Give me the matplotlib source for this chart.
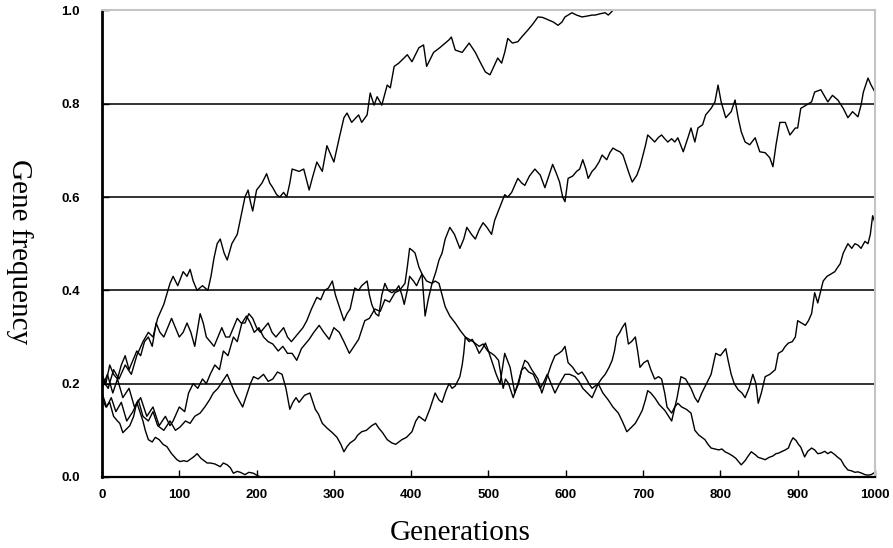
import matplotlib
matplotlib.use("Agg")
import matplotlib.pyplot as plt
from matplotlib.ticker import FormatStrFormatter

# five drift runs (generation, gene frequency)
a_gen = [0, 8, 15, 22, 30, 38, 45, 53, 60, 66, 72, 80, 88, 92, 98, 105, 110, 114, 118, 123,
         130, 137, 141, 145, 149, 153, 158, 162, 168, 175, 180, 185, 189, 192, 195, 200, 207,
         213, 217, 221, 226, 230, 235, 239, 243, 246, 255, 261, 268, 272, 278, 285, 291, 300,
         307, 313, 317, 323, 332, 336, 343, 347, 352, 356, 362, 369, 373, 378, 384, 395, 401,
         410, 416, 420, 429, 437, 449, 452, 457, 466, 475, 483, 489, 496, 502, 507, 512, 517,
         521, 525, 531, 538, 544, 551, 557, 564, 570, 577, 584, 590, 595, 599, 608, 614, 621,
         628, 634, 638, 645, 651, 655, 661]
a_freq = [0.21, 0.19, 0.23, 0.21, 0.24, 0.22, 0.26, 0.29, 0.31, 0.30, 0.34, 0.37, 0.415, 0.43,
          0.41, 0.44, 0.43, 0.445, 0.42, 0.40, 0.41, 0.40, 0.43, 0.47, 0.50, 0.51, 0.48, 0.465,
          0.50, 0.52, 0.56, 0.60, 0.615, 0.59, 0.57, 0.615, 0.63, 0.65, 0.63, 0.62, 0.605, 0.60,
          0.61, 0.60, 0.63, 0.66, 0.655, 0.66, 0.615, 0.64, 0.675, 0.655, 0.71, 0.675, 0.727,
          0.77, 0.78, 0.76, 0.776, 0.76, 0.776, 0.823, 0.797, 0.815, 0.797, 0.84, 0.834, 0.88,
          0.887, 0.905, 0.89, 0.92, 0.926, 0.88, 0.91, 0.92, 0.937, 0.943, 0.915, 0.91, 0.93,
          0.91, 0.89, 0.868, 0.862, 0.88, 0.898, 0.887, 0.91, 0.94, 0.93, 0.933, 0.945, 0.958,
          0.97, 0.986, 0.985, 0.98, 0.975, 0.968, 0.975, 0.986, 0.995, 0.99, 0.986, 0.988, 0.99,
          0.99, 0.993, 0.995, 0.99, 1.0]

b_gen = [0, 7, 14, 20, 27, 35, 42, 50, 58, 66, 74, 82, 88, 92, 100, 107, 112, 118, 124, 130,
         135, 140, 146, 152, 157, 163, 170, 175, 181, 187, 192, 197, 203, 209, 215, 221, 228,
         234, 240, 246, 252, 258, 268, 274, 281, 287, 294, 300, 307, 313, 320, 326, 332, 340,
         346, 353, 360, 366, 372, 379, 385, 392, 395, 398, 402, 405, 410, 414, 418, 422, 427,
         432, 436, 440, 444, 450, 456, 463, 468, 472, 478, 483, 488, 493, 498, 504, 508, 512,
         521, 525, 530, 534, 538, 543, 547, 553, 560, 567, 573, 578, 583, 588, 592, 596, 599,
         603, 609, 614, 618, 622, 626, 629, 634, 638, 643, 647, 653, 657, 661, 666, 670, 674,
         677, 682, 686, 692, 696, 699, 703, 706, 711, 715, 720, 724, 728, 732, 737, 741, 745,
         752, 758, 762, 767, 771, 777, 781, 788, 793, 797, 801, 807, 814, 819, 823, 827, 832,
         838, 845, 851, 858, 864, 868, 872, 877, 884, 890, 897, 900, 904, 911, 918, 922, 930,
         939, 945, 952, 959, 965, 971, 978, 982, 985, 991, 995, 1000]
b_freq = [0.19, 0.22, 0.18, 0.21, 0.17, 0.19, 0.15, 0.17, 0.13, 0.15, 0.11, 0.13, 0.11, 0.12,
          0.15, 0.14, 0.18, 0.20, 0.19, 0.21, 0.20, 0.22, 0.24, 0.23, 0.27, 0.26, 0.30, 0.29,
          0.33, 0.345, 0.33, 0.31, 0.32, 0.30, 0.29, 0.285, 0.27, 0.28, 0.265, 0.265, 0.25,
          0.275, 0.295, 0.31, 0.325, 0.31, 0.295, 0.32, 0.31, 0.29, 0.265, 0.28, 0.295, 0.335,
          0.34, 0.36, 0.355, 0.38, 0.375, 0.395, 0.40, 0.415, 0.45, 0.49, 0.485, 0.48, 0.45,
          0.435, 0.345, 0.38, 0.415, 0.44, 0.465, 0.48, 0.51, 0.535, 0.52, 0.49, 0.51, 0.535,
          0.52, 0.51, 0.53, 0.545, 0.535, 0.52, 0.55, 0.567, 0.605, 0.60, 0.61, 0.625, 0.64,
          0.63, 0.625, 0.645, 0.66, 0.647, 0.62, 0.645, 0.67, 0.65, 0.632, 0.60, 0.59, 0.64,
          0.645, 0.655, 0.66, 0.68, 0.66, 0.64, 0.655, 0.662, 0.675, 0.69, 0.68, 0.695, 0.705,
          0.70, 0.697, 0.69, 0.675, 0.65, 0.632, 0.647, 0.665, 0.684, 0.71, 0.733, 0.725, 0.718,
          0.728, 0.733, 0.725, 0.718, 0.725, 0.718, 0.727, 0.697, 0.727, 0.748, 0.718, 0.748,
          0.755, 0.776, 0.79, 0.804, 0.84, 0.804, 0.77, 0.783, 0.808, 0.77, 0.74, 0.718, 0.712,
          0.727, 0.697, 0.695, 0.684, 0.665, 0.712, 0.76, 0.76, 0.733, 0.748, 0.748, 0.79,
          0.797, 0.804, 0.825, 0.83, 0.804, 0.818, 0.808, 0.79, 0.77, 0.783, 0.772, 0.797,
          0.825, 0.855, 0.84, 0.825]

c_gen = [0, 6, 12, 18, 25, 32, 40, 47, 53, 60, 66, 72, 80, 88, 95, 101, 108, 114, 120, 127,
         133, 139, 144, 150, 156, 162, 167, 172, 177, 182, 188, 192, 196, 202, 209, 215, 221,
         227, 233, 238, 243, 247, 251, 255, 262, 269, 276, 280, 285, 291, 298, 304, 309, 313,
         317, 321, 327, 331, 336, 342, 349, 354, 358, 363, 369, 375, 380, 384, 388, 394, 401,
         406, 410, 414, 418, 424, 431, 436, 440, 445, 449, 453, 457, 463, 466, 468, 470, 475,
         479, 484, 488, 492, 496, 500, 506, 510, 515, 521, 528, 534, 538, 543, 547, 552, 558,
         562, 567, 572, 576, 581, 586, 592, 599, 605, 612, 617, 622, 628, 634, 638, 642, 648,
         655, 661, 668, 673, 679, 684, 690, 695, 699, 703, 706, 710, 715, 721, 728, 733, 737,
         744, 749, 755, 762, 767, 771, 776, 782, 788, 794, 800, 807, 810, 814, 818, 823, 828,
         832, 837, 842, 846, 849, 853, 858, 864, 871, 875, 880, 884, 888, 893, 897, 900, 905,
         910, 914, 918, 922, 926, 930, 933, 938, 943, 948, 952, 955, 959, 965, 970, 974, 978,
         982, 987, 991, 994, 997, 1000]
c_freq = [0.18, 0.15, 0.17, 0.14, 0.16, 0.12, 0.14, 0.165, 0.13, 0.12, 0.14, 0.11, 0.10, 0.12,
          0.10, 0.107, 0.12, 0.115, 0.13, 0.137, 0.15, 0.165, 0.18, 0.19, 0.205, 0.22, 0.20,
          0.18, 0.165, 0.15, 0.18, 0.20, 0.215, 0.21, 0.22, 0.205, 0.21, 0.225, 0.22, 0.19,
          0.145, 0.16, 0.17, 0.16, 0.175, 0.18, 0.145, 0.135, 0.115, 0.105, 0.095, 0.085, 0.07,
          0.054, 0.065, 0.073, 0.08, 0.09, 0.097, 0.10, 0.11, 0.115, 0.105, 0.095, 0.08, 0.073,
          0.07, 0.075, 0.08, 0.085, 0.097, 0.12, 0.13, 0.125, 0.12, 0.145, 0.18, 0.165, 0.16,
          0.185, 0.20, 0.19, 0.195, 0.215, 0.24, 0.265, 0.30, 0.29, 0.295, 0.28, 0.265, 0.275,
          0.287, 0.27, 0.24, 0.22, 0.20, 0.265, 0.235, 0.18, 0.20, 0.23, 0.235, 0.225, 0.22,
          0.205, 0.19, 0.205, 0.22, 0.20, 0.18, 0.20, 0.22, 0.22, 0.215, 0.205, 0.19, 0.18,
          0.17, 0.185, 0.20, 0.18, 0.165, 0.15, 0.137, 0.12, 0.097, 0.105, 0.115, 0.13, 0.143,
          0.165, 0.185, 0.18, 0.17, 0.155, 0.143, 0.13, 0.12, 0.17, 0.215, 0.21, 0.19, 0.17,
          0.16, 0.18, 0.20, 0.22, 0.265, 0.26, 0.275, 0.25, 0.22, 0.20, 0.187, 0.18, 0.17, 0.19,
          0.22, 0.20, 0.158, 0.18, 0.215, 0.22, 0.23, 0.265, 0.27, 0.28, 0.287, 0.29, 0.30,
          0.335, 0.33, 0.325, 0.335, 0.35, 0.395, 0.373, 0.40, 0.42, 0.43, 0.435, 0.44, 0.45,
          0.457, 0.48, 0.50, 0.49, 0.50, 0.497, 0.49, 0.505, 0.50, 0.52, 0.56, 0.545]

d_gen = [0, 5, 10, 15, 20, 23, 27, 30, 36, 41, 45, 48, 53, 56, 60, 65, 69, 74, 79, 84, 90, 97,
         101, 106, 110, 116, 120, 123, 128, 132, 136, 140, 146, 153, 157, 162, 166, 170, 175,
         179, 185, 190, 196, 200, 205, 210]
d_freq = [0.17, 0.15, 0.16, 0.13, 0.12, 0.115, 0.095, 0.10, 0.11, 0.13, 0.16, 0.145, 0.12, 0.10,
          0.08, 0.075, 0.085, 0.08, 0.07, 0.065, 0.05, 0.037, 0.033, 0.035, 0.033, 0.04, 0.045,
          0.05, 0.04, 0.035, 0.03, 0.03, 0.028, 0.022, 0.03, 0.026, 0.02, 0.008, 0.012, 0.01,
          0.005, 0.01, 0.008, 0.004, 0.0, 0.0]

e_gen = [0, 5, 10, 15, 20, 25, 30, 35, 40, 45, 50, 55, 60, 65, 70, 75, 80, 85, 90, 95, 100,
         105, 110, 115, 120, 124, 127, 131, 135, 140, 145, 150, 155, 160, 165, 170, 175, 180,
         185, 190, 195, 200, 205, 210, 215, 220, 225, 230, 235, 240, 245, 250, 255, 260, 265,
         271, 278, 283, 288, 293, 298, 302, 307, 313, 317, 321, 327, 332, 336, 343, 346, 349,
         354, 358, 362, 366, 370, 375, 380, 384, 388, 391, 395, 398, 403, 407, 411, 414, 420,
         427, 431, 436, 440, 444, 450, 457, 463, 470, 475, 480, 488, 493, 499, 504, 508, 513,
         516, 519, 522, 526, 529, 532, 535, 539, 543, 547, 551, 556, 560, 564, 569, 573, 577,
         581, 586, 591, 595, 599, 603, 609, 613, 616, 621, 625, 630, 634, 638, 642, 646, 651,
         656, 660, 663, 666, 670, 673, 677, 681, 685, 690, 693, 696, 701, 706, 710, 715, 720,
         724, 728, 731, 737, 741, 745, 750, 756, 762, 767, 772, 776, 780, 784, 788, 793, 798,
         802, 806, 811, 816, 820, 824, 827, 832, 836, 840, 845, 849, 853, 858, 863, 868, 872,
         875, 880, 884, 888, 891, 894, 898, 901, 904, 909, 913, 918, 922, 926, 930, 935, 939,
         943, 948, 952, 956, 960, 965, 970, 974, 978, 983, 987, 991, 995, 1000]
e_freq = [0.22, 0.20, 0.24, 0.22, 0.21, 0.24, 0.26, 0.23, 0.25, 0.27, 0.26, 0.29, 0.30, 0.28,
          0.33, 0.31, 0.30, 0.32, 0.34, 0.32, 0.30, 0.31, 0.33, 0.31, 0.28, 0.32, 0.35, 0.33,
          0.30, 0.29, 0.28, 0.30, 0.32, 0.30, 0.30, 0.32, 0.34, 0.33, 0.33, 0.35, 0.34, 0.32,
          0.31, 0.32, 0.33, 0.31, 0.30, 0.31, 0.32, 0.30, 0.29, 0.30, 0.31, 0.32, 0.335, 0.36,
          0.385, 0.38, 0.40, 0.405, 0.42, 0.39, 0.365, 0.335, 0.35, 0.36, 0.405, 0.40, 0.41,
          0.42, 0.39, 0.37, 0.35, 0.345, 0.39, 0.415, 0.40, 0.395, 0.40, 0.41, 0.39, 0.37, 0.40,
          0.43, 0.42, 0.41, 0.425, 0.435, 0.42, 0.415, 0.42, 0.415, 0.39, 0.365, 0.345, 0.33,
          0.315, 0.30, 0.295, 0.29, 0.28, 0.285, 0.27, 0.265, 0.26, 0.25, 0.22, 0.19, 0.21,
          0.20, 0.185, 0.17, 0.185, 0.20, 0.23, 0.25, 0.245, 0.23, 0.22, 0.21, 0.18, 0.20, 0.22,
          0.24, 0.26, 0.265, 0.27, 0.28, 0.245, 0.235, 0.225, 0.22, 0.225, 0.215, 0.20, 0.19,
          0.195, 0.20, 0.21, 0.22, 0.235, 0.25, 0.27, 0.30, 0.31, 0.32, 0.33, 0.285, 0.29, 0.30,
          0.27, 0.235, 0.245, 0.25, 0.23, 0.21, 0.215, 0.21, 0.18, 0.15, 0.137, 0.15, 0.158,
          0.15, 0.145, 0.137, 0.10, 0.09, 0.085, 0.08, 0.07, 0.062, 0.06, 0.058, 0.06, 0.054,
          0.05, 0.045, 0.04, 0.032, 0.026, 0.035, 0.045, 0.054, 0.048, 0.042, 0.04, 0.037,
          0.042, 0.045, 0.05, 0.051, 0.055, 0.058, 0.062, 0.075, 0.084, 0.078, 0.07, 0.064,
          0.043, 0.055, 0.062, 0.058, 0.05, 0.051, 0.055, 0.05, 0.054, 0.048, 0.042, 0.037,
          0.025, 0.015, 0.013, 0.01, 0.011, 0.008, 0.005, 0.004, 0.005, 0.01]

x_ticks = [0, 100, 200, 300, 400, 500, 600, 700, 800, 900, 1000]
y_ticks = [0.0, 0.2, 0.4, 0.6, 0.8, 1.0]

fig = plt.figure(figsize=(8.93, 5.48), dpi=100)
ax = fig.add_axes([0.1142, 0.1296, 0.8656, 0.8514])

# horizontal rules
for y in y_ticks[1:-1]:
    ax.axhline(y, color="#222222", lw=1.3, zorder=1)

for g, f in [(a_gen, a_freq), (b_gen, b_freq), (c_gen, c_freq), (d_gen, d_freq), (e_gen, e_freq)]:
    ax.plot(g, f, color="black", lw=1.0, zorder=2)

ax.set_xlim(0, 1000)
ax.set_ylim(0, 1.0)
ax.set_xticks(x_ticks)
ax.set_yticks(y_ticks)
ax.yaxis.set_major_formatter(FormatStrFormatter("%.1f"))
ax.tick_params(axis="both", direction="in", length=5, width=1, color="black",
               labelsize=9.5)
ax.tick_params(axis="x", pad=9)
ax.tick_params(axis="y", pad=16)
for lab in ax.get_xticklabels() + ax.get_yticklabels():
    lab.set_fontfamily("Liberation Sans")
    lab.set_fontweight("bold")

ax.spines["left"].set_linewidth(2.0)
ax.spines["bottom"].set_linewidth(1.6)
ax.spines["top"].set_color("#c4c4c4")
ax.spines["right"].set_color("#c4c4c4")
ax.spines["top"].set_linewidth(1.5)
ax.spines["right"].set_linewidth(1.5)

fig.text(0.515, 0.027, "Generations", family="Liberation Serif", fontsize=21,
         ha="center", va="center")
fig.text(0.022, 0.54, "Gene frequency", family="Liberation Serif", fontsize=21,
         ha="center", va="center", rotation=-90)

fig.savefig("out.png", dpi=100)
